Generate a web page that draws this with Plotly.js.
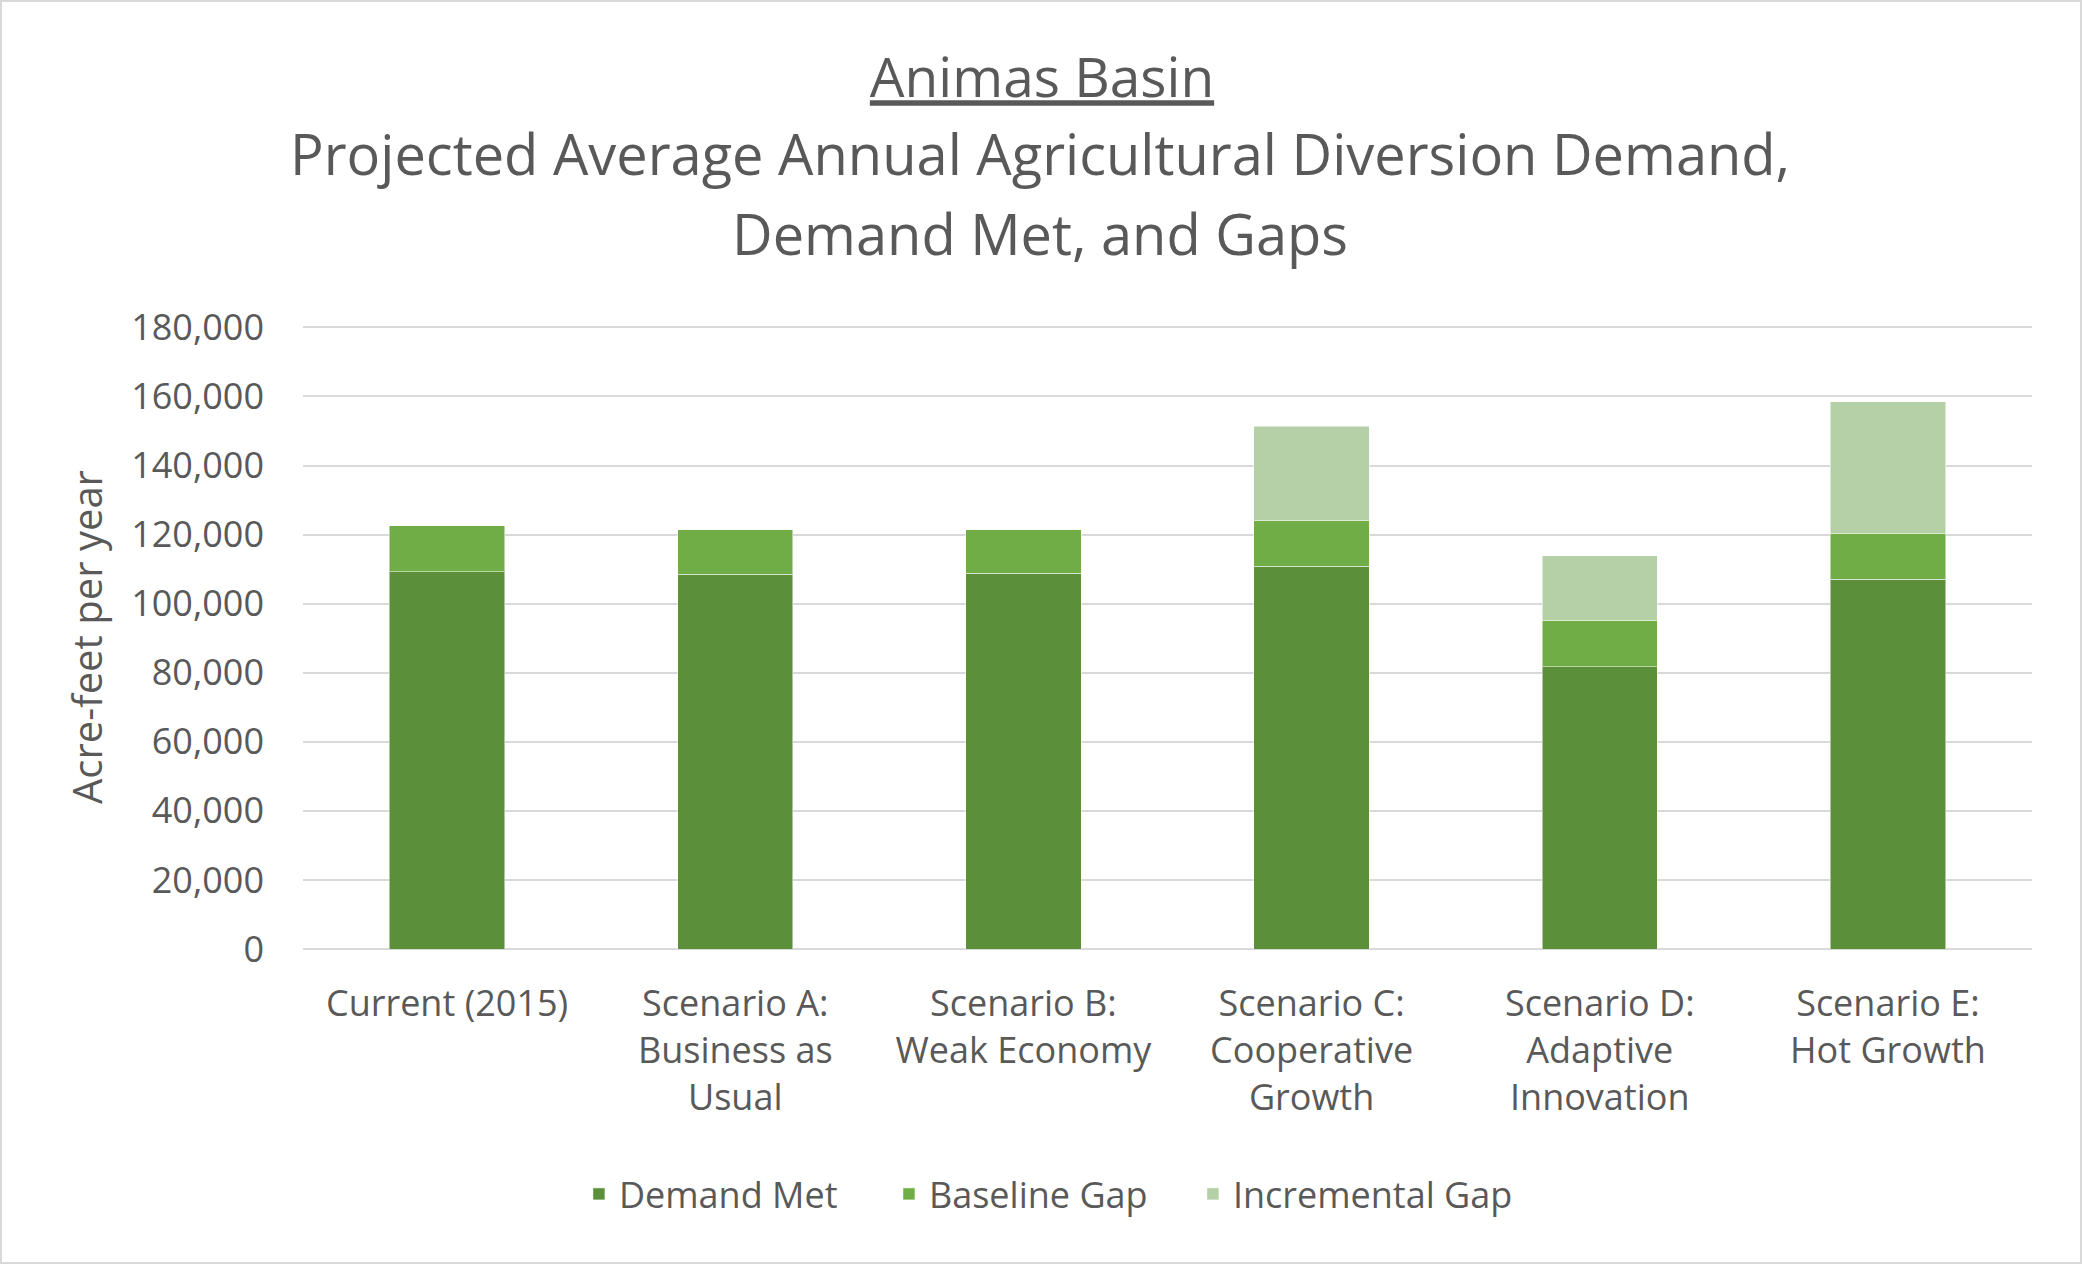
<!DOCTYPE html>
<html>
<head>
<meta charset="utf-8">
<script src="https://cdn.plot.ly/plotly-3.0.1.min.js"></script>
<style>
html,body{margin:0;padding:0;background:#fff;}
#chart{width:2078px;height:1260px;border:2px solid #d9d9d9;}
</style>
</head>
<body>
<div id="chart"></div>
<script>
const categories = [
  "Current (2015)",
  "Scenario A:<br>Business as<br>Usual",
  "Scenario B:<br>Weak Economy",
  "Scenario C:<br>Cooperative<br>Growth",
  "Scenario D:<br>Adaptive<br>Innovation",
  "Scenario E:<br>Hot Growth"
];
const demandMet      = [109200, 108500, 108800, 110800, 81700, 107100];
const baselineGap    = [13400, 12900, 12650, 13300, 13550, 13300];
const incrementalGap = [0, 0, 0, 27350, 18700, 38050];
const seriesNames = ["Demand Met", "Baseline Gap", "Incremental Gap"];
const yTickVals = [0, 20000, 40000, 60000, 80000, 100000, 120000, 140000, 160000, 180000];

const FONT = "'Open Sans', sans-serif";
const TXT = "#595959";

const traces = [
  {type:"bar", name:seriesNames[0], x:categories, y:demandMet, marker:{color:"#5b8f3a"}, legend:"legend"},
  {type:"bar", name:seriesNames[1], x:categories, y:baselineGap, marker:{color:"#70ad47"}, legend:"legend2"},
  {type:"bar", name:seriesNames[2], x:categories, y:incrementalGap, marker:{color:"#b5cfa7"}, legend:"legend3"}
];
traces.forEach(t => { t.marker.line = {color:"rgba(255,255,255,0.5)", width:1}; t.hoverinfo = "y+name"; });

const PB = 947, PH = 624;
const legendBase = (x) => ({
  orientation: "h",
  x: x, xanchor: "left", xref: "paper",
  y: (PB-1192)/PH, yanchor: "middle",
  font: {family: FONT, size: 36, color: TXT},
  itemwidth: 30,
  bgcolor: "rgba(0,0,0,0)"
});

const layout = {
  width: 2078, height: 1260,
  paper_bgcolor: "#fff", plot_bgcolor: "#fff",
  font: {family: FONT, color: TXT, size: 36},
  barmode: "stack",
  bargap: 0.6,
  margin: {l: 301, r: 48, t: 323, b: 313, autoexpand: false},
  title: {
    text: "<u>Animas Basin</u>",
    font: {family: FONT, size: 55, color: TXT},
    x: 1040/2078, xanchor: "center", xref: "container",
    y: 1 - 76/1260, yanchor: "middle", yref: "container"
  },
  annotations: [
    {text: "Projected Average Annual Agricultural Diversion Demand,", xref: "paper", yref: "paper",
     x: 0.426, y: (PB-151)/PH, xanchor: "center", yanchor: "middle", showarrow: false,
     font: {family: FONT, size: 56, color: TXT}},
    {text: "Demand Met, and Gaps", xref: "paper", yref: "paper",
     x: 0.426, y: (PB-231)/PH, xanchor: "center", yanchor: "middle", showarrow: false,
     font: {family: FONT, size: 56, color: TXT}}
  ],
  xaxis: {
    type: "category",
    showgrid: false, showline: false, zeroline: false,
    ticks: "", ticklabelstandoff: 30,
    tickfont: {family: FONT, size: 36, color: TXT},
    automargin: false
  },
  yaxis: {
    range: [0, 180700],
    tickvals: yTickVals,
    tickformat: ",d",
    showgrid: true, gridcolor: "#d9d9d9", gridwidth: 2,
    zeroline: true, zerolinecolor: "#d9d9d9", zerolinewidth: 2,
    showline: false, ticks: "", ticklabelstandoff: 38,
    tickfont: {family: FONT, size: 36, color: TXT},
    title: {text: "Acre-feet per year", font: {family: FONT, size: 40, color: TXT}, standoff: 16},
    automargin: false
  },
  legend: legendBase(0.1596),
  legend2: legendBase(0.3389),
  legend3: legendBase(0.5147),
  showlegend: true
};

Plotly.newPlot("chart", traces, layout, {displayModeBar: false, responsive: false});
</script>
</body>
</html>
